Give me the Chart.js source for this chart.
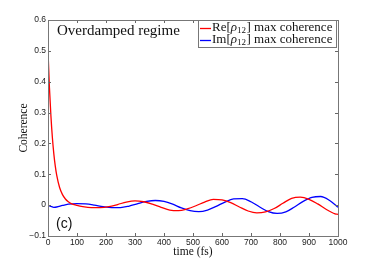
<!DOCTYPE html>
<html>
<head>
<meta charset="utf-8">
<script src="https://cdn.jsdelivr.net/npm/chart.js@4"></script>
<style>
  body { margin: 0; background: #fff; }
  canvas { display: block; }
</style>
</head>
<body>
<canvas id="chartCanvas" width="374" height="266"></canvas>
<script>
// time (fs) and coherence values
const reTimes = [0, 5, 10, 15, 20, 25, 30, 40, 50, 60, 70, 80, 100, 120, 150, 180, 210, 240, 270, 300, 330, 360, 390, 420, 450, 480, 510, 540, 570, 600, 630, 660, 690, 720, 750, 780, 810, 840, 870, 900, 930, 960, 990, 1000];
const reValues = [0.5, 0.38, 0.29, 0.22, 0.167, 0.127, 0.097, 0.057, 0.034, 0.02, 0.011, 0.005, -0.001, -0.005, -0.008, -0.008, -0.005, 0.002, 0.010, 0.014, 0.011, 0.003, -0.007, -0.016, -0.018, -0.012, -0.002, 0.010, 0.019, 0.017, 0.008, -0.006, -0.019, -0.025, -0.022, -0.011, 0.006, 0.022, 0.026, 0.019, 0.004, -0.014, -0.028, -0.030];

const imTimes = [0, 10, 20, 30, 50, 70, 100, 130, 160, 190, 220, 250, 280, 310, 340, 370, 400, 430, 460, 490, 520, 550, 580, 610, 640, 670, 700, 730, 760, 790, 820, 850, 880, 910, 940, 970, 1000];
const imValues = [0.0, -0.004, -0.007, -0.006, -0.001, 0.003, 0.005, 0.004, 0.0, -0.005, -0.008, -0.008, -0.003, 0.005, 0.012, 0.015, 0.012, 0.003, -0.009, -0.018, -0.021, -0.016, -0.004, 0.010, 0.020, 0.021, 0.011, -0.006, -0.021, -0.027, -0.022, -0.006, 0.012, 0.025, 0.028, 0.016, -0.007];

const xTicks = [0, 100, 200, 300, 400, 500, 600, 700, 800, 900, 1000];
const yTicks = [-0.1, 0, 0.1, 0.2, 0.3, 0.4, 0.5, 0.6];

const serif = '"Liberation Serif", "Times New Roman", serif';
const sans = '"Liberation Sans", Arial, sans-serif';

function toPoints(xs, ys) {
  return xs.map((x, i) => ({ x: x, y: ys[i] }));
}

// Legend entry like "Re[ρ12] max coherence"
function drawLegendText(ctx, x, y, head) {
  ctx.textBaseline = 'middle';
  ctx.textAlign = 'left';
  ctx.font = '13px ' + serif;
  ctx.fillText(head + '[', x, y);
  x += ctx.measureText(head + '[').width;
  ctx.font = 'italic 13px ' + serif;
  ctx.fillText('\u03c1', x, y);
  x += ctx.measureText('\u03c1').width;
  ctx.font = '9px ' + serif;
  ctx.fillText('12', x, y + 3);
  x += ctx.measureText('12').width + 0.5;
  ctx.font = '13px ' + serif;
  ctx.fillText('] max coherence', x, y);
}

const decorPlugin = {
  id: 'decor',
  afterDraw(chart) {
    const ctx = chart.ctx;
    const a = chart.chartArea;
    const xs = chart.scales.x;
    const ys = chart.scales.y;
    ctx.save();

    // inside tick marks, all four sides
    ctx.strokeStyle = '#666';
    ctx.lineWidth = 1;
    ctx.beginPath();
    xTicks.forEach(t => {
      const px = Math.round(xs.getPixelForValue(t)) + 0.5;
      ctx.moveTo(px, a.bottom); ctx.lineTo(px, a.bottom - 3);
      ctx.moveTo(px, a.top); ctx.lineTo(px, a.top + 3);
    });
    yTicks.forEach(t => {
      const py = Math.round(ys.getPixelForValue(t)) + 0.5;
      ctx.moveTo(a.left, py); ctx.lineTo(a.left + 3, py);
      ctx.moveTo(a.right, py); ctx.lineTo(a.right - 3, py);
    });
    ctx.stroke();

    // axes box
    ctx.strokeStyle = '#777';
    ctx.strokeRect(Math.round(a.left) + 0.5, Math.round(a.top) + 0.5,
      Math.round(a.right - a.left), Math.round(a.bottom - a.top));

    // legend box
    ctx.fillStyle = '#fff';
    ctx.fillRect(198, 20, 139, 27);
    ctx.strokeStyle = '#777';
    ctx.strokeRect(198.5, 20.5, 138, 27);
    ctx.lineWidth = 1.3;
    ctx.strokeStyle = '#ff0000';
    ctx.beginPath(); ctx.moveTo(200, 28.5); ctx.lineTo(211, 28.5); ctx.stroke();
    ctx.strokeStyle = '#0000ff';
    ctx.beginPath(); ctx.moveTo(200, 40.5); ctx.lineTo(211, 40.5); ctx.stroke();
    ctx.fillStyle = '#111';
    drawLegendText(ctx, 212, 28, 'Re');
    drawLegendText(ctx, 212, 40, 'Im');

    // title inside the plot
    ctx.font = '15px ' + serif;
    ctx.textAlign = 'left';
    ctx.textBaseline = 'middle';
    ctx.fillText('Overdamped regime', 57, 31);

    // panel label
    ctx.font = '14px ' + sans;
    ctx.fillText('(c)', 56, 224);

    // axis titles
    ctx.font = '11.5px ' + serif;
    ctx.textAlign = 'center';
    ctx.fillText('time (fs)', (a.left + a.right) / 2, 252);
    ctx.translate(24, (a.top + a.bottom) / 2);
    ctx.rotate(-Math.PI / 2);
    ctx.fillText('Coherence', 0, 0);

    ctx.restore();
  }
};

new Chart(document.getElementById('chartCanvas').getContext('2d'), {
  type: 'line',
  data: {
    datasets: [{
      label: 'Re[\u03c112] max coherence',
      data: toPoints(reTimes, reValues),
      borderColor: '#ff0000',
      borderWidth: 1.3,
      pointRadius: 0,
      cubicInterpolationMode: 'monotone'
    }, {
      label: 'Im[\u03c112] max coherence',
      data: toPoints(imTimes, imValues),
      borderColor: '#0000ff',
      borderWidth: 1.3,
      pointRadius: 0,
      cubicInterpolationMode: 'monotone'
    }]
  },
  options: {
    responsive: false,
    animation: false,
    devicePixelRatio: 1,
    layout: { padding: { top: 20, right: 36, left: 0, bottom: 0 } },
    plugins: {
      legend: { display: false },
      tooltip: { enabled: false }
    },
    scales: {
      x: {
        type: 'linear',
        min: 0,
        max: 1000,
        afterFit: scale => { scale.height = 30; },
        afterBuildTicks: scale => { scale.ticks = xTicks.map(v => ({ value: v })); },
        grid: { display: false, drawTicks: false },
        border: { display: false },
        ticks: {
          maxRotation: 0,
          padding: 2,
          color: '#222',
          font: { family: sans, size: 8.5 },
          callback: v => String(v)
        }
      },
      y: {
        min: -0.1,
        max: 0.6,
        afterFit: scale => { scale.width = 48; },
        afterBuildTicks: scale => { scale.ticks = yTicks.map(v => ({ value: v })); },
        grid: { display: false, drawTicks: false },
        border: { display: false },
        ticks: {
          padding: 2,
          color: '#222',
          font: { family: sans, size: 8.5 },
          callback: v => (Math.abs(v) < 1e-9 ? '0' : v.toFixed(1).replace('-', '\u2212'))
        }
      }
    }
  },
  plugins: [decorPlugin]
});
</script>
</body>
</html>
